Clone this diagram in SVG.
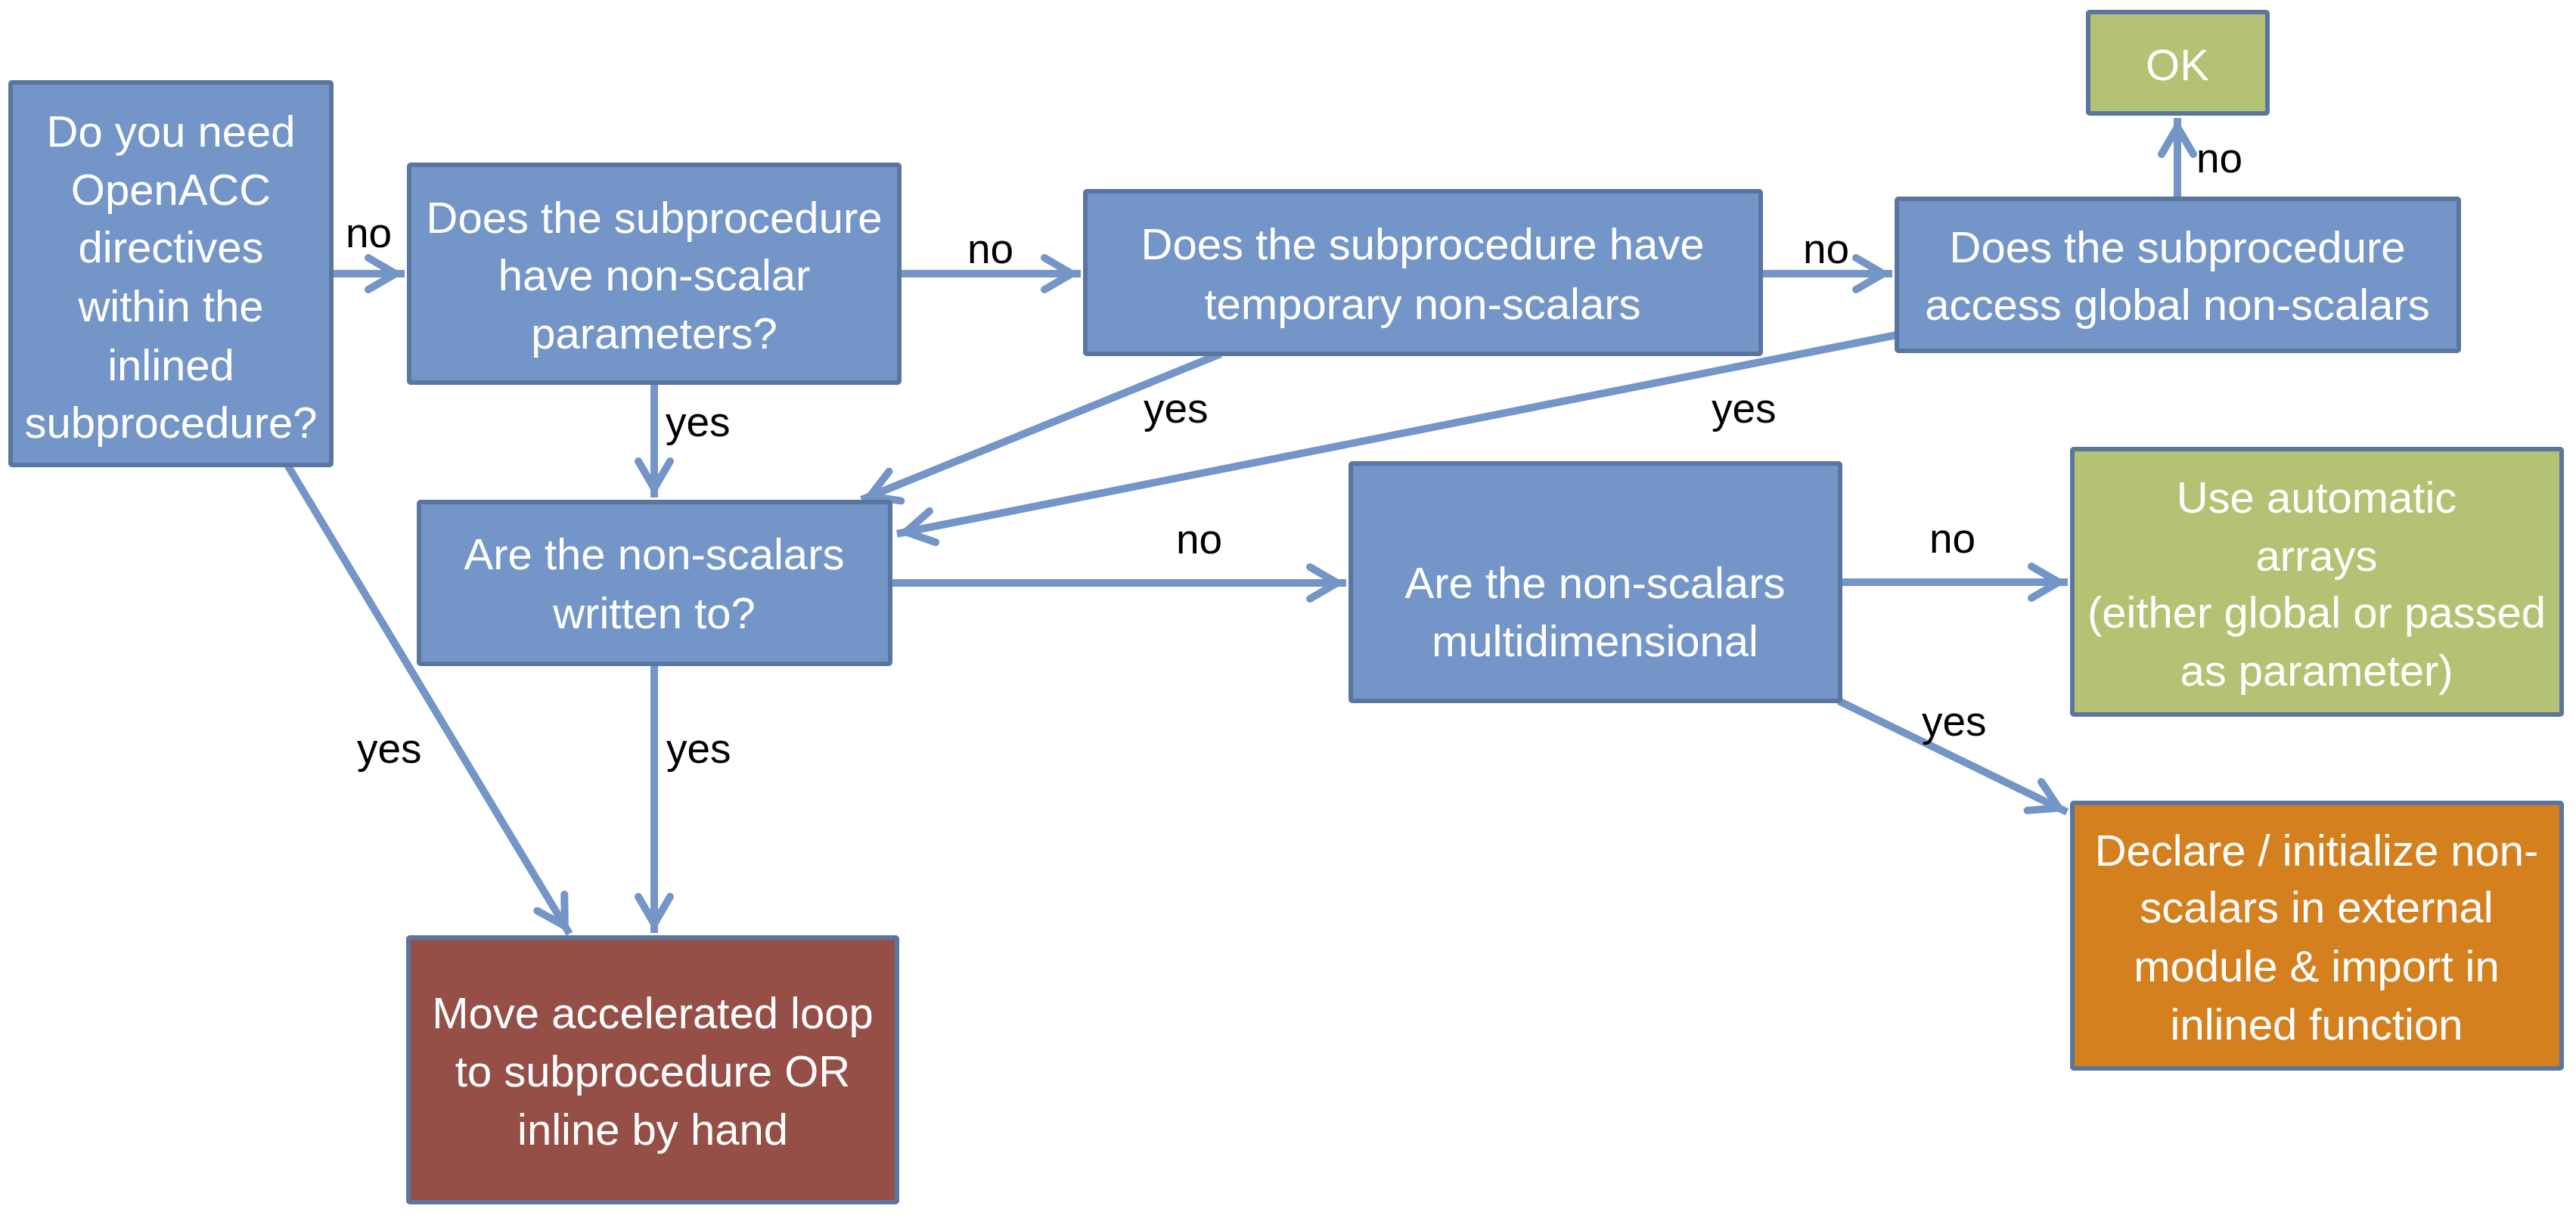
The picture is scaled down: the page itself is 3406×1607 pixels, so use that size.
<svg xmlns="http://www.w3.org/2000/svg" width="3406" height="1607" viewBox="0 0 3406 1607">
<defs>
<style>
.box{stroke:#5A769F;stroke-width:6}
.blue{fill:#7395C7}
.green{fill:#B3C373}
.orange{fill:#D4801F}
.brown{fill:#954F47}
.t{font-family:"Liberation Sans",Arial,sans-serif;font-size:58px;fill:#ffffff;text-anchor:middle}
.lbl{font-family:"Liberation Sans",Arial,sans-serif;font-size:55px;fill:#000000}
.c{fill:none;stroke:#7395C7;stroke-width:10;marker-end:url(#arr)}
</style>
<marker id="arr" markerUnits="userSpaceOnUse" viewBox="-60 -30 70 60" markerWidth="70" markerHeight="60" refX="0" refY="0" orient="auto" overflow="visible">
<path d="M-48,-21 L-12,0 L-48,21" fill="none" stroke="#7395C7" stroke-width="10" stroke-linecap="round" stroke-linejoin="miter"/>
</marker>
</defs>
<rect width="3406" height="1607" fill="#ffffff"/>
<g id="connectors">
<line class="c" x1="438" y1="362" x2="535" y2="362"/>
<line class="c" x1="1189" y1="362" x2="1429" y2="362"/>
<line class="c" x1="2328" y1="362" x2="2502" y2="362"/>
<line class="c" x1="2879" y1="263" x2="2879" y2="156"/>
<line class="c" x1="865" y1="506" x2="865" y2="658"/>
<line class="c" x1="1614" y1="468" x2="1139" y2="661"/>
<line class="c" x1="2508" y1="443" x2="1186" y2="706"/>
<line class="c" x1="380" y1="615" x2="753" y2="1235"/>
<line class="c" x1="865" y1="878" x2="865" y2="1234"/>
<line class="c" x1="1177" y1="771" x2="1780" y2="771"/>
<line class="c" x1="2433" y1="770" x2="2734" y2="770"/>
<line class="c" x1="2431" y1="927" x2="2733" y2="1074"/>
<text class="lbl" x="457" y="327">no</text>
<text class="lbl" x="1279" y="348">no</text>
<text class="lbl" x="2384" y="348">no</text>
<text class="lbl" x="2904" y="228">no</text>
<text class="lbl" x="880" y="577">yes</text>
<text class="lbl" x="1512" y="559">yes</text>
<text class="lbl" x="2263" y="559">yes</text>
<text class="lbl" x="472" y="1009">yes</text>
<text class="lbl" x="881" y="1009">yes</text>
<text class="lbl" x="1555" y="732">no</text>
<text class="lbl" x="2551" y="731">no</text>
<text class="lbl" x="2541" y="973">yes</text>
</g>
<g id="n1">
<rect class="box blue" x="14" y="109" width="424" height="506" rx="2"/>
<text class="t" x="226" y="194">Do you need</text>
<text class="t" x="226" y="271">OpenACC</text>
<text class="t" x="226" y="347">directives</text>
<text class="t" x="226" y="425">within the</text>
<text class="t" x="226" y="503">inlined</text>
<text class="t" x="226" y="579">subprocedure?</text>
</g>
<g id="n2">
<rect class="box blue" x="541" y="218" width="648" height="288" rx="2"/>
<text class="t" x="865" y="308">Does the subprocedure</text>
<text class="t" x="865" y="384">have non-scalar</text>
<text class="t" x="865" y="461">parameters?</text>
</g>
<g id="n3">
<rect class="box blue" x="1435" y="253" width="893" height="215" rx="2"/>
<text class="t" x="1881" y="343">Does the subprocedure have</text>
<text class="t" x="1881" y="422">temporary non-scalars</text>
</g>
<g id="n4">
<rect class="box blue" x="2508" y="263" width="743" height="201" rx="2"/>
<text class="t" x="2879" y="347">Does the subprocedure</text>
<text class="t" x="2879" y="423">access global non-scalars</text>
</g>
<g id="ok">
<rect class="box green" x="2761" y="16" width="237" height="134" rx="2"/>
<text class="t" x="2879" y="106">OK</text>
</g>
<g id="n5">
<rect class="box blue" x="554" y="664" width="623" height="214" rx="2"/>
<text class="t" x="865" y="753">Are the non-scalars</text>
<text class="t" x="865" y="831">written to?</text>
</g>
<g id="n6">
<rect class="box blue" x="1786" y="613" width="647" height="314" rx="2"/>
<text class="t" x="2109" y="791">Are the non-scalars</text>
<text class="t" x="2109" y="868">multidimensional</text>
</g>
<g id="use">
<rect class="box green" x="2740" y="594" width="647" height="351" rx="2"/>
<text class="t" x="3063" y="678">Use automatic</text>
<text class="t" x="3063" y="755">arrays</text>
<text class="t" x="3063" y="830">(either global or passed</text>
<text class="t" x="3063" y="907">as parameter)</text>
</g>
<g id="declare">
<rect class="box orange" x="2740" y="1062" width="647" height="351" rx="2"/>
<text class="t" x="3063" y="1145">Declare / initialize non-</text>
<text class="t" x="3063" y="1220">scalars in external</text>
<text class="t" x="3063" y="1298">module &amp; import in</text>
<text class="t" x="3063" y="1375">inlined function</text>
</g>
<g id="move">
<rect class="box brown" x="540" y="1240" width="646" height="350" rx="2"/>
<text class="t" x="863" y="1360">Move accelerated loop</text>
<text class="t" x="863" y="1437">to subprocedure OR</text>
<text class="t" x="863" y="1514">inline by hand</text>
</g>
</svg>
